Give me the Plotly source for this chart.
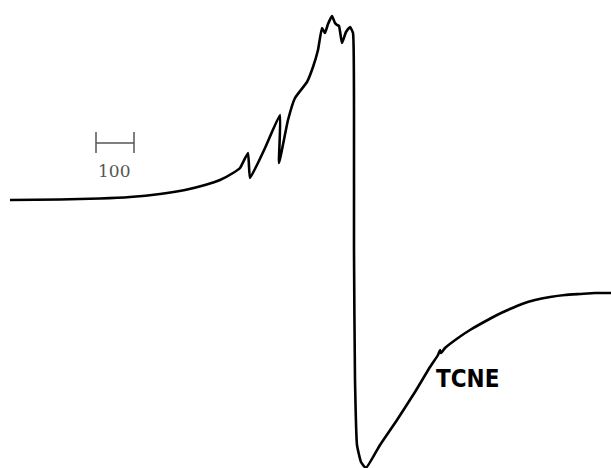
import plotly.graph_objects as go

# Field (arbitrary units) and derivative signal
field = [10, 60, 100, 130, 160, 185, 205, 220, 233, 240, 248, 250, 265, 280, 279, 288, 295, 307, 313, 318, 322, 325,
         328, 332, 335, 337, 339, 342, 346, 350, 353, 354, 354, 355, 357, 361, 366, 380, 397, 415, 430, 438,
         440, 441, 445, 458, 470, 484, 497, 510, 522, 535, 550, 565, 580, 595, 611]
signal = [0, 0.5, 1.5, 3, 6, 10, 15, 20, 27, 32, 47, 22, 52, 85, 37, 80, 102, 118, 133, 150, 172, 167,
          176, 184, 177, 175, 174, 157, 168, 173, 167, 90, -50, -180, -245, -262, -268, -245, -220, -192, -167, -155,
          -150, -153, -148, -138, -130, -122, -115, -109, -104, -100, -97, -95, -94, -93, -93]

scale_bar_x = [96, 134]
scale_label = "100"
species = "TCNE"

fig = go.Figure()
fig.add_trace(go.Scatter(x=field, y=signal, mode="lines",
                         line=dict(color="black", width=2.6, shape="spline", smoothing=0.4),
                         hoverinfo="skip", showlegend=False))
# scale bar
fig.add_trace(go.Scatter(x=scale_bar_x, y=[57, 57], mode="lines",
                         line=dict(color="#555", width=1.5), showlegend=False, hoverinfo="skip"))
for xv in scale_bar_x:
    fig.add_trace(go.Scatter(x=[xv, xv], y=[47, 68], mode="lines",
                             line=dict(color="#555", width=1.5), showlegend=False, hoverinfo="skip"))
fig.add_annotation(x=sum(scale_bar_x) / 2 - 1, y=29, text=scale_label, showarrow=False,
                   font=dict(family="DejaVu Serif", size=17, color="#555"))
fig.add_annotation(x=467, y=-179, text="<b>" + species + "</b>", showarrow=False,
                   font=dict(family="Liberation Sans Narrow, DejaVu Sans Condensed", size=24, color="black"))

fig.update_layout(width=611, height=468, margin=dict(l=0, r=0, t=0, b=0),
                  paper_bgcolor="white", plot_bgcolor="white",
                  xaxis=dict(range=[0, 611], visible=False),
                  yaxis=dict(range=[-268, 200], visible=False))
fig.write_html("out.html")
